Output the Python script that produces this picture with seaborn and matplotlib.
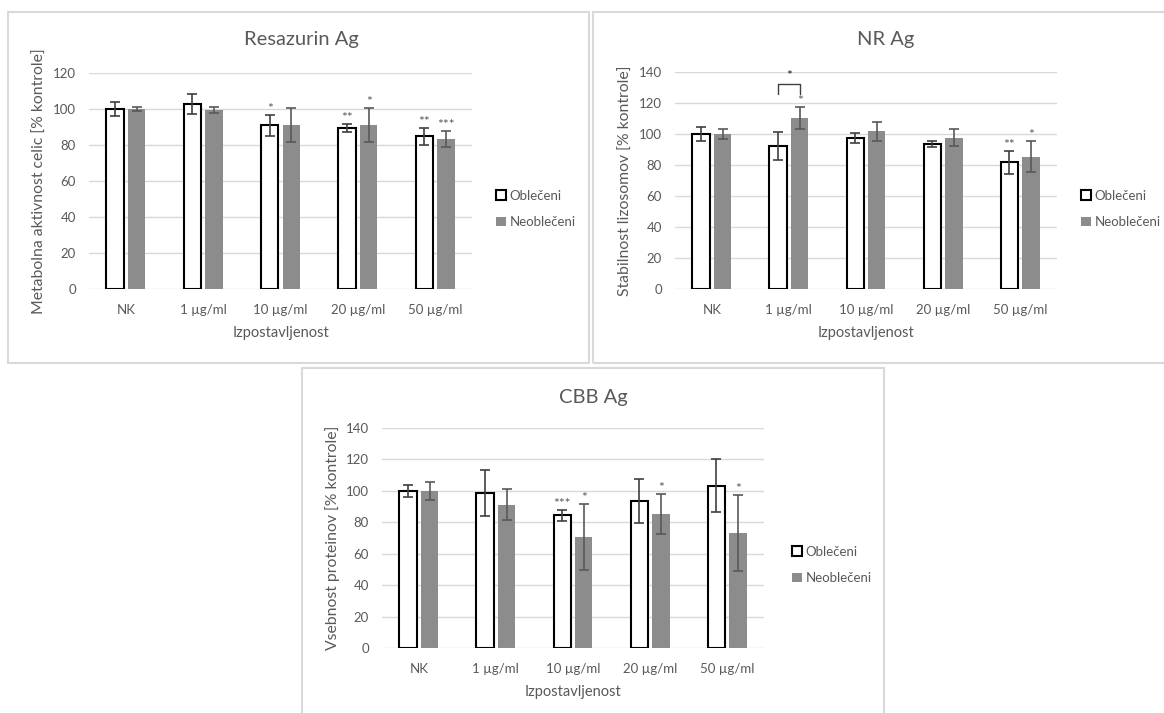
import numpy as np
import pandas as pd
import seaborn as sns
import matplotlib
matplotlib.use("Agg")
import matplotlib.pyplot as plt
from matplotlib.patches import Rectangle, Patch

# ---------------- data ----------------
categories = ["NK", "1 µg/ml", "10 µg/ml", "20 µg/ml", "50 µg/ml"]
series = ["Oblečeni", "Neoblečeni"]

res_obl = [100, 102.8, 90.9, 89.6, 84.8]
res_obl_err = [4.0, 5.7, 6.0, 2.3, 4.8]
res_neo = [100, 99.5, 91.1, 91.1, 83.3]
res_neo_err = [1.0, 1.5, 9.3, 9.3, 4.6]
res_obl_sig = ["", "", "*", "**", "**"]
res_neo_sig = ["", "", "", "*", "***"]

nr_obl = [100, 92.1, 97.4, 93.6, 81.9]
nr_obl_err = [4.8, 9.0, 3.5, 2.0, 7.4]
nr_neo = [100, 110.2, 101.7, 97.7, 85.3]
nr_neo_err = [3.5, 7.0, 6.0, 5.7, 10.0]
nr_obl_sig = ["", "", "", "", "**"]
nr_neo_sig = ["", "*", "", "", "*"]

cbb_obl = [100, 98.5, 84.5, 93.8, 103.4]
cbb_obl_err = [4.0, 14.7, 3.4, 14.0, 17.0]
cbb_neo = [100, 91.3, 70.9, 85.3, 73.2]
cbb_neo_err = [5.6, 10.0, 21.0, 12.8, 24.0]
cbb_obl_sig = ["", "", "***", "", ""]
cbb_neo_sig = ["", "", "*", "*", "*"]

# ---------------- style ----------------
sns.set_style("white")
plt.rcParams["font.family"] = ["Lato", "DejaVu Sans"]
TXT = "#595959"
GRID = "#d9d9d9"
GRAY = "#8c8c8c"

W, H = 1164, 713
fig = plt.figure(figsize=(W / 100, H / 100), dpi=100)


def fx(px):
    return px / W


def fy(py):
    return 1 - py / H


def box(x0, y0, x1, y1):
    fig.patches.append(Rectangle((fx(x0), fy(y1)), fx(x1 - x0), (y1 - y0) / H,
                                 transform=fig.transFigure, fill=False,
                                 edgecolor=GRID, lw=1.5, zorder=0))


def panel(rect, obl, obl_err, neo, neo_err, s_obl, s_neo, ymax, ylabel,
          title, title_xy, legend_xy):
    x0, y0, x1, y1 = rect
    ax = fig.add_axes([fx(x0), fy(y1), fx(x1 - x0), (y1 - y0) / H])
    df = pd.DataFrame({
        "cat": categories * 2,
        "series": [series[0]] * 5 + [series[1]] * 5,
        "val": list(obl) + list(neo),
    })
    sns.barplot(data=df, x="cat", y="val", hue="series", order=categories,
                hue_order=series, palette={series[0]: "white", series[1]: GRAY},
                width=0.56, gap=0.2, saturation=1, errorbar=None,
                legend=False, ax=ax, zorder=2)
    for b in ax.containers[0]:
        b.set_edgecolor("black")
        b.set_linewidth(1.5)
    for b in ax.containers[1]:
        b.set_edgecolor("none")

    pos = []
    for cont, vals, errs, sigs, ec in [
        (ax.containers[0], obl, obl_err, s_obl, "#404040"),
        (ax.containers[1], neo, neo_err, s_neo, "#595959"),
    ]:
        xs = [b.get_x() + b.get_width() / 2 for b in cont]
        pos.append(xs)
        ax.errorbar(xs, vals, yerr=errs, fmt="none", ecolor=ec,
                    elinewidth=1.2, capsize=3.5, capthick=1.2, zorder=3)
        for x, v, e, s in zip(xs, vals, errs, sigs):
            if s:
                ax.annotate(s, (x, v + e), xytext=(0, 0),
                            textcoords="offset points", ha="center",
                            va="bottom", fontsize=10, color=TXT)

    ax.set_ylim(0, ymax)
    ax.set_yticks(np.arange(0, ymax + 1, 20))
    ax.yaxis.grid(True, color=GRID, lw=1)
    ax.set_axisbelow(True)
    for sp in ax.spines.values():
        sp.set_visible(False)
    ax.tick_params(axis="y", length=0, pad=9.5, labelsize=9.5, labelcolor=TXT)
    ax.tick_params(axis="x", length=0, pad=11, labelsize=9.5, labelcolor=TXT)
    ax.set_xlabel("Izpostavljenost", fontsize=10.5, color=TXT, labelpad=7)
    ax.set_ylabel(ylabel, fontsize=11.3, color=TXT, labelpad=4)

    fig.text(fx(title_xy[0]), fy(title_xy[1]), title, ha="center",
             va="center", fontsize=14.5, color=TXT)

    handles = [Patch(facecolor="white", edgecolor="black", lw=1.5),
               Patch(facecolor=GRAY, edgecolor="none")]
    ax.legend(handles, series, loc="center left",
              bbox_to_anchor=(fx(legend_xy[0]), fy(legend_xy[1])),
              bbox_transform=fig.transFigure, frameon=False,
              fontsize=9.5, labelcolor=TXT, handlelength=0.75,
              handleheight=0.75, handletextpad=0.3, labelspacing=1.1,
              borderpad=0, borderaxespad=0)
    return ax, pos


# panel frames
box(8, 12, 589, 363)
box(593, 12, 1175, 363)
box(302, 368, 884, 725)

ax1, _ = panel((89, 73, 472, 289), res_obl, res_obl_err, res_neo, res_neo_err,
               res_obl_sig, res_neo_sig, 120,
               "Metabolna aktivnost celic [% kontrole]", "Resazurin Ag",
               (301, 40), (496, 209))

ax2, pos2 = panel((675, 72, 1057, 289), nr_obl, nr_obl_err, nr_neo, nr_neo_err,
                  nr_obl_sig, nr_neo_sig, 140,
                  "Stabilnost lizosomov [% kontrole]", "NR Ag",
                  (886, 40), (1081, 209))

# significance bracket between groups at 1 µg/ml
bx0, bx1 = pos2[0][1], pos2[1][1]
ax2.plot([bx0, bx0, bx1, bx1], [125.5, 132.5, 132.5, 125.5],
         color="#404040", lw=1.0, zorder=3, solid_joinstyle="round")
ax2.text((bx0 + bx1) / 2, 133.5, "*", ha="center", va="bottom",
         fontsize=10, color="#262626")

ax3, _ = panel((382, 428, 764, 648), cbb_obl, cbb_obl_err, cbb_neo, cbb_neo_err,
               cbb_obl_sig, cbb_neo_sig, 140,
               "Vsebnost proteinov [% kontrole]", "CBB Ag",
               (593, 397), (792, 565))

fig.savefig("out.png", dpi=100)
